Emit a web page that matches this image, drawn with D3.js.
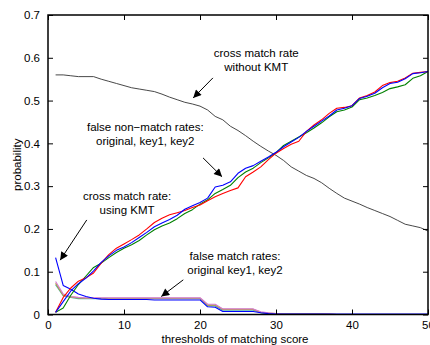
<!DOCTYPE html>
<html>
<head>
<meta charset="utf-8">
<script src="https://cdn.jsdelivr.net/npm/d3@7"></script>
<style>
  body { margin: 0; background: #fff; }
  svg { display: block; }
  text { font-family: "Liberation Sans", Arial, sans-serif; }
</style>
</head>
<body>
<div id="chart"></div>
<script>
// thresholds of matching score
const thresholds = [1, 2, 3, 4, 5, 6, 7, 8, 9, 10, 11, 12, 13, 14, 15, 16, 17, 18, 19, 20,
  21, 22, 23, 24, 25, 26, 27, 28, 29, 30, 31, 32, 33, 34, 35, 36, 37, 38, 39, 40,
  41, 42, 43, 44, 45, 46, 47, 48, 49, 50];

// cross match rate without KMT
const crossNoKmt = [0.560, 0.560, 0.558, 0.556, 0.556, 0.556, 0.550, 0.545, 0.540, 0.535,
  0.530, 0.527, 0.524, 0.521, 0.515, 0.508, 0.502, 0.496, 0.492, 0.487,
  0.478, 0.463, 0.455, 0.440, 0.430, 0.418, 0.405, 0.393, 0.382, 0.372,
  0.360, 0.345, 0.335, 0.325, 0.318, 0.308, 0.295, 0.283, 0.272, 0.265,
  0.258, 0.250, 0.243, 0.236, 0.229, 0.220, 0.211, 0.207, 0.203, 0.195];

// cross match rate using KMT
const crossKmt = [0.133, 0.068, 0.059, 0.048, 0.042, 0.038, 0.036, 0.035, 0.035, 0.035,
  0.035, 0.035, 0.035, 0.034, 0.034, 0.034, 0.034, 0.034, 0.034, 0.034,
  0.018, 0.017, 0.007, 0.007, 0.007, 0.007, 0.007, 0.004, 0.002, 0.001,
  0.001, 0.001, 0.001, 0.001, 0.001, 0.001, 0.001, 0.001, 0.001, 0.001,
  0.001, 0.001, 0.001, 0.001, 0.001, 0.001, 0.001, 0.001, 0.001, 0.001];

// false non-match rates: original, key1, key2
const fnmOriginal = [0.005, 0.040, 0.062, 0.078, 0.086, 0.097, 0.120, 0.140, 0.155, 0.165,
  0.175, 0.186, 0.200, 0.215, 0.225, 0.233, 0.238, 0.243, 0.250, 0.256,
  0.266, 0.275, 0.283, 0.290, 0.296, 0.322, 0.333, 0.345, 0.362, 0.377,
  0.388, 0.398, 0.405, 0.428, 0.443, 0.455, 0.470, 0.482, 0.484, 0.488,
  0.506, 0.512, 0.520, 0.535, 0.542, 0.545, 0.553, 0.564, 0.566, 0.568];
const fnmKey1 = [0.005, 0.030, 0.055, 0.072, 0.085, 0.102, 0.122, 0.137, 0.150, 0.158,
  0.168, 0.180, 0.192, 0.205, 0.214, 0.222, 0.232, 0.246, 0.254, 0.262,
  0.272, 0.298, 0.302, 0.310, 0.330, 0.342, 0.348, 0.358, 0.368, 0.379,
  0.392, 0.403, 0.414, 0.428, 0.440, 0.452, 0.464, 0.478, 0.482, 0.488,
  0.505, 0.510, 0.517, 0.530, 0.540, 0.543, 0.551, 0.563, 0.565, 0.568];
const fnmKey2 = [0.005, 0.015, 0.045, 0.070, 0.090, 0.110, 0.120, 0.133, 0.145, 0.155,
  0.163, 0.173, 0.186, 0.198, 0.207, 0.214, 0.224, 0.236, 0.245, 0.258,
  0.268, 0.283, 0.292, 0.302, 0.320, 0.333, 0.342, 0.355, 0.366, 0.378,
  0.395, 0.405, 0.415, 0.425, 0.436, 0.448, 0.462, 0.474, 0.478, 0.485,
  0.502, 0.506, 0.512, 0.519, 0.528, 0.532, 0.537, 0.552, 0.558, 0.568];

// false match rates: original, key1, key2
const fmOriginal = [0.077, 0.048, 0.042, 0.040, 0.039, 0.039, 0.039, 0.039, 0.039, 0.039,
  0.039, 0.039, 0.039, 0.039, 0.039, 0.039, 0.039, 0.039, 0.039, 0.039,
  0.024, 0.024, 0.013, 0.013, 0.013, 0.013, 0.013, 0.006, 0.004, 0.002,
  0.001, 0.001, 0.001, 0.001, 0.001, 0.001, 0.001, 0.000, 0.000, 0.000,
  0.000, 0.000, 0.000, 0.000, 0.000, 0.000, 0.000, 0.000, 0.000, 0.000];
const fmKey1 = [0.073, 0.045, 0.041, 0.039, 0.038, 0.038, 0.038, 0.038, 0.038, 0.038,
  0.038, 0.038, 0.038, 0.038, 0.038, 0.038, 0.038, 0.038, 0.038, 0.038,
  0.022, 0.022, 0.012, 0.012, 0.012, 0.012, 0.012, 0.005, 0.003, 0.002,
  0.001, 0.001, 0.001, 0.001, 0.001, 0.001, 0.001, 0.000, 0.000, 0.000,
  0.000, 0.000, 0.000, 0.000, 0.000, 0.000, 0.000, 0.000, 0.000, 0.000];
const fmKey2 = [0.070, 0.044, 0.040, 0.037, 0.037, 0.037, 0.037, 0.037, 0.037, 0.037,
  0.037, 0.037, 0.037, 0.037, 0.037, 0.037, 0.037, 0.037, 0.037, 0.037,
  0.020, 0.020, 0.010, 0.010, 0.010, 0.010, 0.010, 0.004, 0.002, 0.001,
  0.001, 0.001, 0.001, 0.001, 0.001, 0.001, 0.000, 0.000, 0.000, 0.000,
  0.000, 0.000, 0.000, 0.000, 0.000, 0.000, 0.000, 0.000, 0.000, 0.000];

const xTicks = [0, 10, 20, 30, 40, 50];
const yTicks = [0, 0.1, 0.2, 0.3, 0.4, 0.5, 0.6, 0.7];

const W = 430, H = 345;
const margin = {top: 15, right: 2, bottom: 30.5, left: 48};
const width = W - margin.left - margin.right;
const height = H - margin.top - margin.bottom;

const svg = d3.select("#chart").append("svg")
  .attr("width", W)
  .attr("height", H);

const g = svg.append("g")
  .attr("transform", "translate(" + margin.left + "," + margin.top + ")");

const x = d3.scaleLinear().domain([0, 50]).range([0, width]);
const y = d3.scaleLinear().domain([0, 0.7]).range([height, 0]);

// series, drawn back to front
const series = [
  {values: crossNoKmt, color: "#333333", w: 0.9},
  {values: fmKey2, color: "#4fb0a8", w: 1.2},
  {values: fmKey1, color: "#b8a030", w: 1.2},
  {values: fmOriginal, color: "#d27ad2", w: 1.2},
  {values: crossKmt, color: "#0000ff", w: 1.1},
  {values: fnmKey2, color: "#008000", w: 1.1},
  {values: fnmOriginal, color: "#ff0000", w: 1.1},
  {values: fnmKey1, color: "#0000ff", w: 1.1}
];

const line = d3.line()
  .x(function(d, i) { return x(thresholds[i]); })
  .y(function(d) { return y(d); });

g.selectAll("path.series")
  .data(series)
  .enter()
  .append("path")
    .attr("class", "series")
    .attr("d", function(d) { return line(d.values); })
    .attr("fill", "none")
    .attr("stroke", function(d) { return d.color; })
    .attr("stroke-width", function(d) { return d.w; })
    .attr("stroke-linejoin", "round");

// axes, MATLAB style: ticks pointing inward on all four sides
function styleAxis(sel) {
  sel.select(".domain").remove();
  sel.selectAll(".tick line").attr("stroke", "#000").attr("stroke-width", 1);
  sel.selectAll(".tick text")
    .attr("fill", "#000")
    .style("font-size", "11.5px")
    .style("font-family", "'Liberation Sans', Arial, sans-serif");
}

g.append("g")
  .attr("transform", "translate(0," + height + ")")
  .call(d3.axisBottom(x).tickValues(xTicks).tickFormat(d3.format("d")).tickSizeInner(-5).tickPadding(6))
  .call(styleAxis);

g.append("g")
  .call(d3.axisTop(x).tickValues(xTicks).tickSizeInner(-5).tickFormat(""))
  .call(styleAxis);

g.append("g")
  .call(d3.axisLeft(y).tickValues(yTicks).tickFormat(function(d) { return d === 0 ? "0" : d3.format(".1f")(d); }).tickSizeInner(-5).tickPadding(8))
  .call(styleAxis);

g.append("g")
  .attr("transform", "translate(" + width + ",0)")
  .call(d3.axisRight(y).tickValues(yTicks).tickSizeInner(-5).tickFormat(""))
  .call(styleAxis);

// box
g.append("rect")
  .attr("x", 0).attr("y", 0)
  .attr("width", width).attr("height", height)
  .attr("fill", "none")
  .attr("stroke", "#000")
  .attr("stroke-width", 1.5);

// axis labels
svg.append("text")
  .attr("x", margin.left + width / 2 - 3)
  .attr("y", 343)
  .attr("text-anchor", "middle")
  .style("font-size", "11.5px")
  .text("thresholds of matching score");

svg.append("text")
  .attr("transform", "translate(21," + (margin.top + height / 2) + ") rotate(-90)")
  .attr("text-anchor", "middle")
  .style("font-size", "11.5px")
  .text("probability");

// annotations: text lines plus arrows, positioned in data units
const notes = [
  {lines: ["cross match rate", "without KMT"], tx: 27.4, ty: 0.601, from: [21.7, 0.553], to: [19.1, 0.506]},
  {lines: ["false non\u2212match rates:", "original, key1, key2"], tx: 12.8, ty: 0.428, from: [20.4, 0.366], to: [22.9, 0.322]},
  {lines: ["cross match rate:", "using KMT"], tx: 10.4, ty: 0.268, from: [5.1, 0.221], to: [1.6, 0.127]},
  {lines: ["false match rates:", "original key1, key2"], tx: 24.6, ty: 0.127, from: [17.8, 0.081], to: [14.9, 0.042]}
];

svg.append("defs").append("marker")
  .attr("id", "head")
  .attr("viewBox", "0 0 10 10")
  .attr("refX", 10).attr("refY", 5)
  .attr("markerWidth", 10).attr("markerHeight", 8)
  .attr("markerUnits", "userSpaceOnUse")
  .attr("orient", "auto")
  .append("path")
    .attr("d", "M0,0 L10,5 L0,10 z")
    .attr("fill", "#000");

notes.forEach(function(n) {
  const t = g.append("text")
    .attr("text-anchor", "middle")
    .style("font-size", "11.5px");
  n.lines.forEach(function(s, i) {
    t.append("tspan")
      .attr("x", x(n.tx))
      .attr("y", y(n.ty) + i * 14)
      .text(s);
  });
  g.append("line")
    .attr("x1", x(n.from[0])).attr("y1", y(n.from[1]))
    .attr("x2", x(n.to[0])).attr("y2", y(n.to[1]))
    .attr("stroke", "#000")
    .attr("stroke-width", 1)
    .attr("marker-end", "url(#head)");
});
</script>
</body>
</html>
